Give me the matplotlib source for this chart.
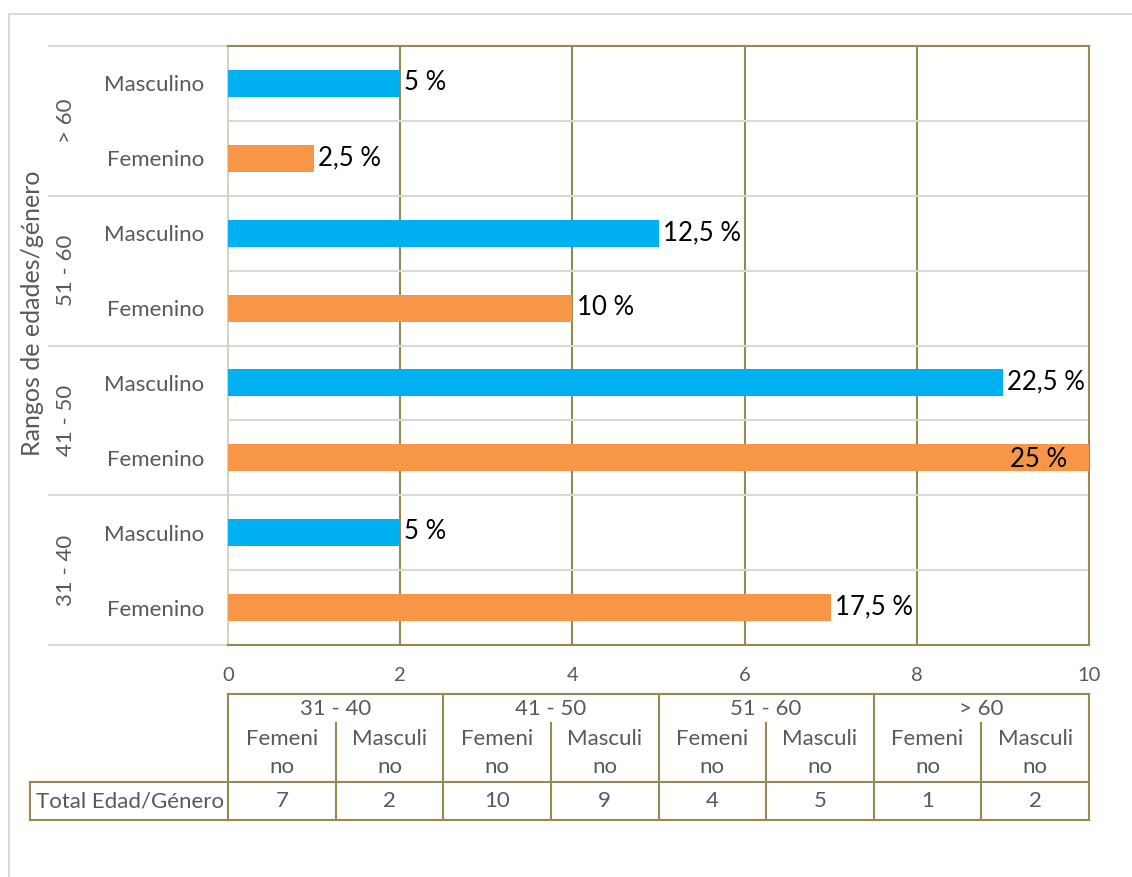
import matplotlib
matplotlib.use("Agg")
import matplotlib.pyplot as plt
from matplotlib.lines import Line2D
from matplotlib.transforms import blended_transform_factory

plt.rcParams['font.family'] = ['Lato', 'DejaVu Sans']

# ---- data ----
age_groups = ["31 - 40", "41 - 50", "51 - 60", "> 60"]
genders = ["Femenino", "Masculino"]
gender_wrapped = ["Femeni\nno", "Masculi\nno"]
femenino = [7, 10, 4, 1]
masculino = [2, 9, 5, 2]
x_ticks = [0, 2, 4, 6, 8, 10]
table_row_label = "Total Edad/Género"
axis_title = "Rangos de edades/género"

# ---- style ----
W, H, DPI = 1132, 877, 100
OLIVE = "#948A54"
GRID = "#D9D9D9"
LEFT_SPINE = "#D6D2C4"
TEXT = "#595959"
BLUE = "#00B0F0"
ORANGE = "#F79646"


def fx(px):
    return px / W


def fy(py):
    return 1 - py / H


def pct_label(v, total):
    p = v / total * 100
    return f"{p:g}".replace(".", ",") + " %"


fig = plt.figure(figsize=(W / DPI, H / DPI), dpi=DPI)
fig.patch.set_facecolor("white")

# chart frame
fig.add_artist(Line2D([fx(9), fx(9)], [fy(14), 0], color=GRID, lw=1.4))
fig.add_artist(Line2D([fx(9), 1], [fy(14), fy(14)], color=GRID, lw=1.4))

# ---- bar chart ----
ax = fig.add_axes([fx(228), fy(645), 861 / W, 599 / H])
values, colors, tick_labels = [], [], []
for f, m in zip(femenino, masculino):
    values += [f, m]
    colors += [ORANGE, BLUE]
    tick_labels += genders
rows = list(range(len(values)))
total = sum(values)
xmax = x_ticks[-1]

ax.barh(rows, values, height=0.36, color=colors, zorder=3)
ax.set_xlim(0, xmax)
ax.set_ylim(-0.5, len(values) - 0.5)

ax.set_yticks(rows)
ax.set_yticklabels(tick_labels, fontsize=16, color=TEXT)
ax.set_xticks(x_ticks)
ax.set_xticklabels([str(t) for t in x_ticks], fontsize=14.5, color=TEXT)
ax.tick_params(axis="y", length=0, pad=17)
ax.tick_params(axis="x", length=0, pad=16)

for s in ("top", "bottom", "right"):
    ax.spines[s].set_color(OLIVE)
    ax.spines[s].set_linewidth(1.5)
ax.spines["left"].set_color(LEFT_SPINE)
ax.spines["left"].set_linewidth(1.5)

# gridlines
for t in x_ticks[1:-1]:
    ax.axvline(t, color=OLIVE, lw=1.5, zorder=1)
ytrans = blended_transform_factory(ax.transAxes, ax.transData)
left_ext = (49 - 228) / 861
for i in range(len(values) + 1):
    yb = i - 0.5
    if 0 < i < len(values):
        ax.axhline(yb, color=GRID, lw=1.5, zorder=1)
    if i % 2 == 0:
        ax.plot([left_ext, 0], [yb, yb], color=GRID, lw=1.5,
                transform=ytrans, clip_on=False)

# group labels
for g, name in enumerate(age_groups):
    ax.text((66 - 228) / 861, 2 * g + 0.5, name, transform=ytrans,
            rotation=90, ha="center", va="center", fontsize=16, color=TEXT)

# value labels
for r, v in zip(rows, values):
    lab = pct_label(v, total)
    if v >= xmax:
        ax.annotate(lab, (v, r), xytext=(-16, -1), textcoords="offset points",
                    ha="right", va="center", fontsize=18.5, color="black",
                    zorder=4)
    else:
        ax.annotate(lab, (v, r), xytext=(3, 0.5), textcoords="offset points",
                    ha="left", va="center", fontsize=18.5, color="black",
                    zorder=4)

fig.text(fx(33), fy(313), axis_title, rotation=90, ha="center", va="center",
         fontsize=18, color=TEXT)

# ---- data table ----
tax = fig.add_axes([fx(228), fy(820), 861 / W, 126 / H])
tax.set_xlim(0, xmax)
tax.set_ylim(126, 0)
tax.axis("off")
n_groups = len(age_groups)
gw = xmax / n_groups
lk = dict(color=OLIVE, lw=1.5, clip_on=False, solid_capstyle="projecting")
tk = dict(ha="center", va="center", fontsize=16, color=TEXT, linespacing=1.5)

tax.plot([0, xmax], [0, 0], **lk)
tax.plot([0, xmax], [126, 126], **lk)
tax.plot([0, xmax], [88, 88], **lk)
for g in range(n_groups + 1):
    tax.plot([g * gw, g * gw], [0, 126], **lk)
for g, name in enumerate(age_groups):
    tax.text(g * gw + gw / 2, 15, name, **tk)
    tax.plot([g * gw + gw / 2] * 2, [29, 126], **lk)
    counts = [femenino[g], masculino[g]]
    for k in range(2):
        cx = g * gw + gw / 4 + k * gw / 2
        tax.text(cx, 59, gender_wrapped[k], **tk)
        tax.text(cx, 107, str(counts[k]), **tk)

# row header cell
xl = (30 - 228) / 861 * xmax
tax.plot([xl, 0], [88, 88], **lk)
tax.plot([xl, 0], [126, 126], **lk)
tax.plot([xl, xl], [88, 126], **lk)
tax.text(xl + 0.07, 107, table_row_label, ha="left", va="center",
         fontsize=16, color=TEXT)

fig.savefig("out.png", dpi=DPI, facecolor="white")
